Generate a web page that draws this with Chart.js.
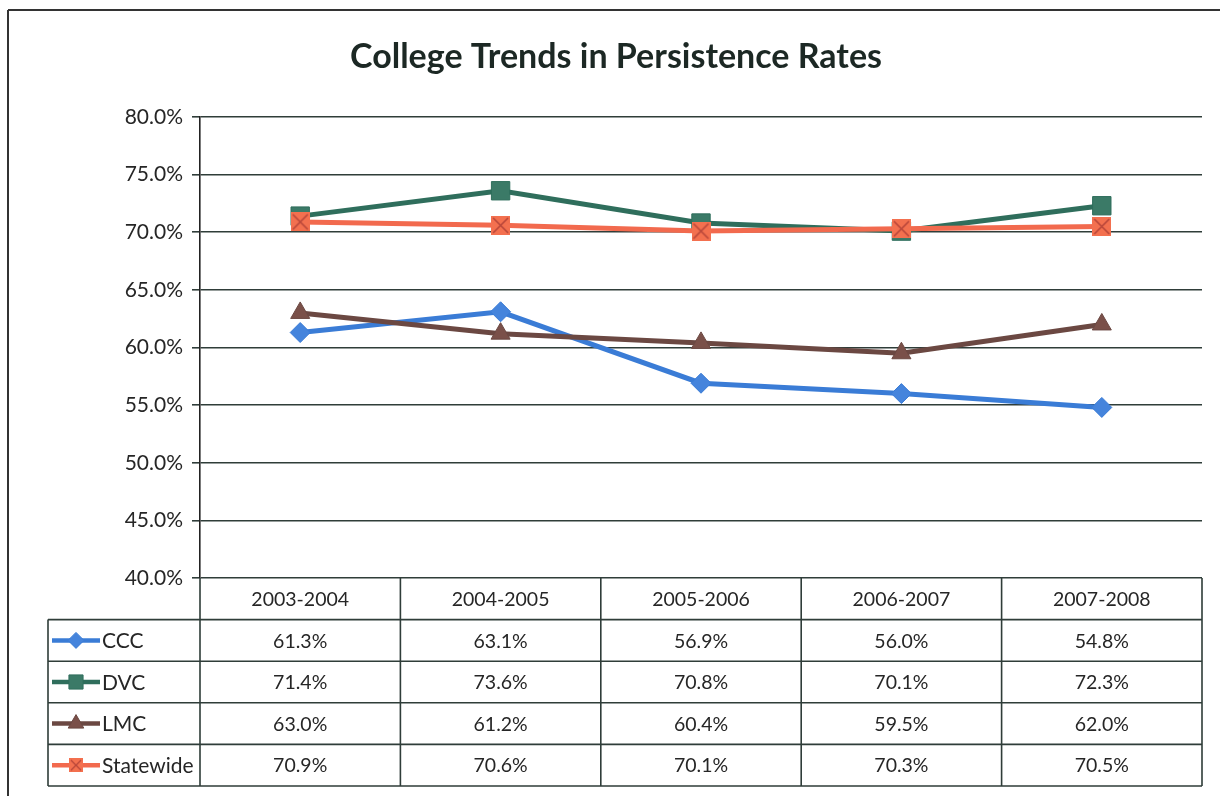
<!DOCTYPE html>
<html><head><meta charset="utf-8">
<script src="https://cdn.jsdelivr.net/npm/chart.js@4"></script>
<style>html,body{margin:0;padding:0;background:#fff}canvas{display:block}</style>
</head><body>
<canvas id="c" width="1220" height="796"></canvas>
<script>
const categories = ['2003-2004','2004-2005','2005-2006','2006-2007','2007-2008'];
const seriesNames = ['CCC','DVC','LMC','Statewide'];
const cccValues = [61.3, 63.1, 56.9, 56.0, 54.8];
const dvcValues = [71.4, 73.6, 70.8, 70.1, 72.3];
const lmcValues = [63.0, 61.2, 60.4, 59.5, 62.0];
const statewideValues = [70.9, 70.6, 70.1, 70.3, 70.5];
const yMin = 40, yMax = 80, yStep = 5;

const FONT = 'Lato, "Open Sans", sans-serif';
const TEXT = '#262626';
const GRID = '#2f3d39';

function makeXSquare(size, fill, stroke, lw){
  const c = document.createElement('canvas'); c.width = size; c.height = size;
  const g = c.getContext('2d');
  g.fillStyle = fill; g.fillRect(0,0,size,size);
  g.strokeStyle = stroke; g.lineWidth = lw;
  g.beginPath(); g.moveTo(2,2); g.lineTo(size-2,size-2); g.moveTo(size-2,2); g.lineTo(2,size-2); g.stroke();
  return c;
}
const swMarker = makeXSquare(19, '#f3704f', '#b9473a', 1.6);
const swMarkerSmall = makeXSquare(14, '#f3704f', '#b9473a', 1.3);

const seriesStyles = [
  {color:'#3a7cd6', fill:'#4584dc', style:'rectRot', radius:10, lRadius:8, order:3},
  {color:'#2f6e5c', fill:'#3b7a67', style:'rect', radius:13, lRadius:10, order:2},
  {color:'#6b4842', fill:'#7a5049', style:'triangle', radius:11, lRadius:9, order:1},
  {color:'#f26a4e', fill:'#f3704f', style:swMarker, radius:10, lRadius:7, order:0, lStyle:swMarkerSmall}
];
const seriesValues = [cccValues, dvcValues, lmcValues, statewideValues];

const datasets = seriesNames.map((name, i) => ({
  label: name,
  data: seriesValues[i],
  borderColor: seriesStyles[i].color,
  backgroundColor: seriesStyles[i].fill,
  borderWidth: 5,
  pointStyle: seriesStyles[i].style,
  pointRadius: seriesStyles[i].radius,
  pointBorderColor: seriesStyles[i].color,
  pointBackgroundColor: seriesStyles[i].fill,
  pointBorderWidth: 1,
  tension: 0,
  order: seriesStyles[i].order
}));

const framePlugin = {
  id: 'frame',
  beforeDraw(chart){
    const ctx = chart.ctx;
    ctx.save();
    ctx.fillStyle = '#fff'; ctx.fillRect(0,0,chart.width,chart.height);
    ctx.strokeStyle = '#333'; ctx.lineWidth = 2;
    ctx.beginPath(); ctx.moveTo(8, 10); ctx.lineTo(1220, 10); ctx.moveTo(8, 10); ctx.lineTo(8, 796); ctx.stroke();
    ctx.restore();
  }
};

const tablePlugin = {
  id: 'dataTable',
  afterDraw(chart){
    const {ctx, chartArea: a, scales: {x}} = chart;
    const n = categories.length;
    const band = (a.right - a.left) / n;
    const rowH = 41.6;
    const top = a.bottom;
    const rows = seriesNames.length;
    const bottom = top + rowH * (rows + 1);
    const legendLeft = 48;
    ctx.save();
    ctx.strokeStyle = GRID; ctx.lineWidth = 1.6;
    ctx.beginPath();
    for (let i = 0; i <= n; i++) {
      const xx = a.left + i * band;
      ctx.moveTo(xx, top); ctx.lineTo(xx, bottom);
    }
    for (let r = 1; r <= rows + 1; r++) {
      const yy = top + r * rowH;
      ctx.moveTo(legendLeft, yy); ctx.lineTo(a.right, yy);
    }
    ctx.moveTo(legendLeft, top + rowH); ctx.lineTo(legendLeft, bottom);
    ctx.stroke();

    ctx.font = '19.5px ' + FONT;
    ctx.fillStyle = TEXT;
    ctx.textAlign = 'center'; ctx.textBaseline = 'middle';
    categories.forEach((c, i) => {
      ctx.fillText(c, x.getPixelForValue(i), top + rowH / 2 + 1);
    });
    seriesNames.forEach((name, r) => {
      const cy = top + (r + 1) * rowH + rowH / 2 + 1;
      seriesValues[r].forEach((v, i) => {
        ctx.fillStyle = TEXT; ctx.textAlign = 'center';
        ctx.font = '19.5px ' + FONT;
        ctx.fillText(v.toFixed(1) + '%', x.getPixelForValue(i), cy);
      });
      const s = seriesStyles[r];
      ctx.strokeStyle = s.color; ctx.lineWidth = 4.5;
      ctx.beginPath(); ctx.moveTo(52, cy - 1); ctx.lineTo(100, cy - 1); ctx.stroke();
      ctx.fillStyle = s.fill; ctx.strokeStyle = s.color; ctx.lineWidth = 1;
      Chart.helpers.drawPoint(ctx, {pointStyle: s.lStyle || s.style, radius: s.lRadius, rotation: 0, borderWidth: 1}, 76, cy - 1);
      ctx.fillStyle = TEXT; ctx.textAlign = 'left';
      ctx.font = '21px ' + FONT;
      ctx.fillText(name, 102, cy);
    });
    ctx.restore();
  }
};

new Chart(document.getElementById('c'), {
  type: 'line',
  data: { labels: categories, datasets },
  plugins: [framePlugin, tablePlugin],
  options: {
    responsive: false,
    animation: false,
    devicePixelRatio: 1,
    layout: { padding: { left: 30, right: 18, top: 0, bottom: 218 } },
    plugins: {
      legend: { display: false },
      tooltip: { enabled: false },
      title: {
        display: true,
        text: 'College Trends in Persistence Rates',
        color: '#1c2824',
        font: { family: FONT, size: 34, weight: 'bold', lineHeight: 1.2 },
        padding: { top: 36.6, bottom: 39.6 }
      }
    },
    scales: {
      x: {
        type: 'category',
        display: false,
        offset: true
      },
      y: {
        min: yMin, max: yMax,
        afterFit(scale){ scale.width = 170; },
        ticks: {
          stepSize: yStep,
          padding: 9,
          color: TEXT,
          font: { family: FONT, size: 21 },
          callback: v => v.toFixed(1) + '%'
        },
        grid: { color: GRID, lineWidth: 1.6, drawTicks: true, tickLength: 8, tickColor: GRID },
        border: { display: true, color: '#222', width: 1.6 }
      }
    }
  }
});
</script>
</body></html>
